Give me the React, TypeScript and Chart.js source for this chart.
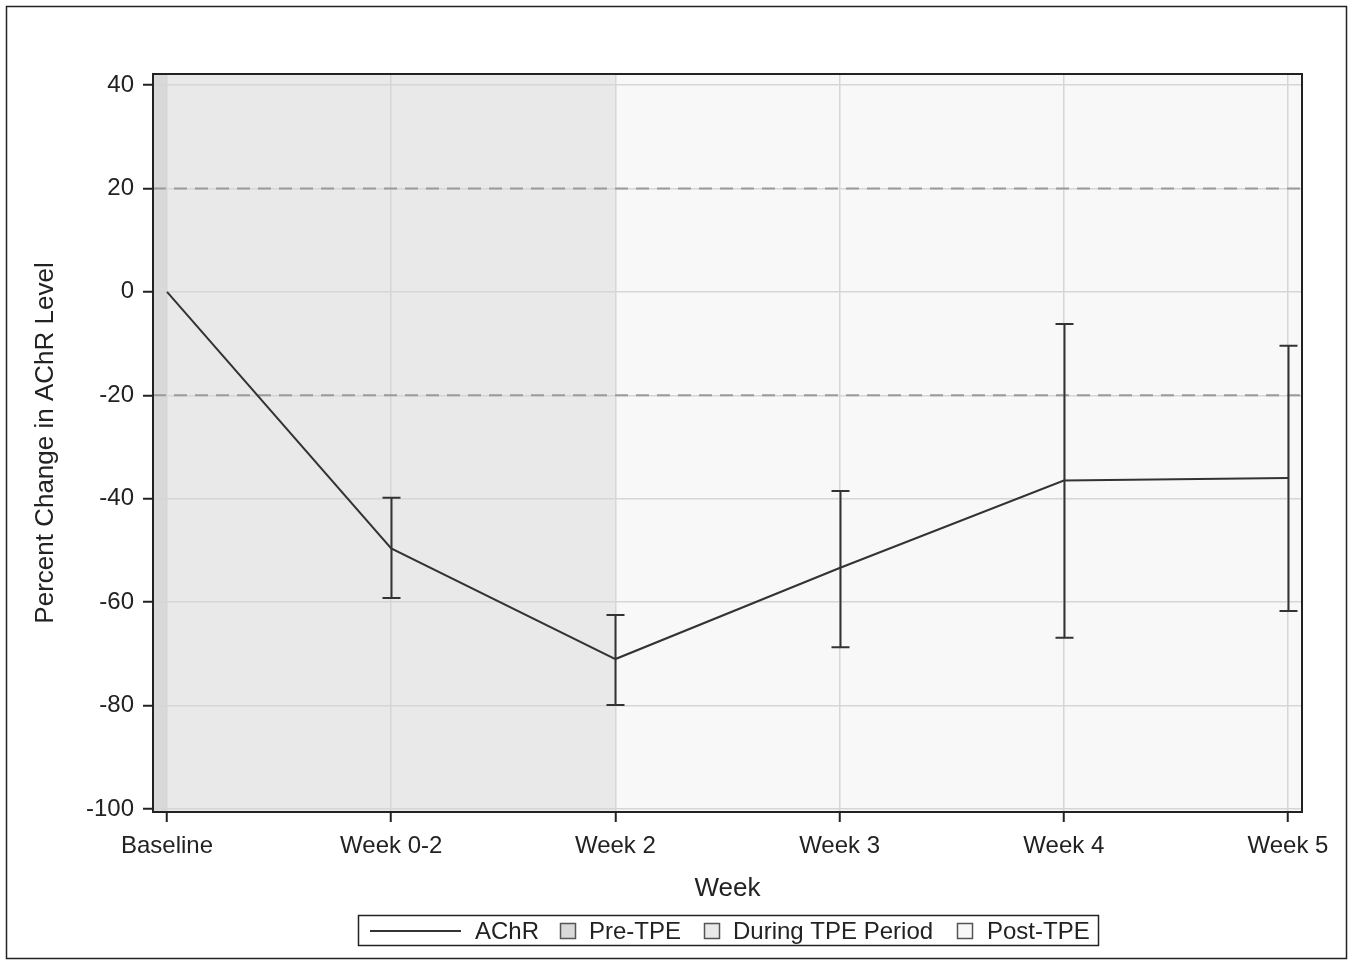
import React, { useEffect, useRef } from "react";
import { Chart, registerables } from "chart.js";

Chart.register(...registerables);

// Visits along the x axis
const categories = ["Baseline", "Week 0-2", "Week 2", "Week 3", "Week 4", "Week 5"];
// Mean percent change in AChR level, with lower / upper error-bar ends
const meanChange = [0, -49.6, -71.0, -53.4, -36.5, -36.0];
const lowerBar: (number | null)[] = [null, -59.2, -79.9, -68.7, -66.9, -61.7];
const upperBar: (number | null)[] = [null, -39.8, -62.5, -38.5, -6.2, -10.4];
// Y axis ticks and dashed reference levels
const yTicks = [-100, -80, -60, -40, -20, 0, 20, 40];
const referenceLevels = [20, -20];
// Treatment phases (x positions of the boundaries, in category units)
const phaseNames = ["Pre-TPE", "During TPE Period", "Post-TPE"];
const phaseStarts = [null, 0, 2];
const phaseEnds = [0, 2, null];
const phaseColors = ["#d9d9d9", "#e9e9e9", "#f8f8f8"];

const FONT = "'Liberation Sans', Arial, Helvetica, sans-serif";
const INK = "#222222";
const LINE = "#333333";

const decorPlugin = {
  id: "decor",
  beforeDraw(chart: any) {
    const { ctx, chartArea: a, scales } = chart;
    const xs = scales.x;
    ctx.save();
    ctx.fillStyle = "#ffffff";
    ctx.fillRect(0, 0, chart.width, chart.height);
    phaseNames.forEach((_, i) => {
      const x0 = phaseStarts[i] === null ? a.left : xs.getPixelForValue(phaseStarts[i]);
      const x1 = phaseEnds[i] === null ? a.right : xs.getPixelForValue(phaseEnds[i]);
      ctx.fillStyle = phaseColors[i];
      ctx.fillRect(x0, a.top, x1 - x0, a.bottom - a.top);
    });
    ctx.restore();
  },
  beforeDatasetsDraw(chart: any) {
    const { ctx, chartArea: a, scales } = chart;
    ctx.save();
    ctx.strokeStyle = "#9a9a9a";
    ctx.lineWidth = 2;
    ctx.setLineDash([13, 8]);
    referenceLevels.forEach((v) => {
      const y = scales.y.getPixelForValue(v);
      ctx.beginPath();
      ctx.moveTo(a.left, y);
      ctx.lineTo(a.right, y);
      ctx.stroke();
    });
    ctx.restore();
  },
  afterDatasetsDraw(chart: any) {
    const { ctx, scales } = chart;
    ctx.save();
    ctx.strokeStyle = LINE;
    ctx.lineWidth = 2;
    const cap = 9;
    categories.forEach((_, i) => {
      const lo = lowerBar[i];
      const hi = upperBar[i];
      if (lo === null || hi === null) return;
      const x = Math.round(scales.x.getPixelForValue(i)) + 0.5;
      const yl = scales.y.getPixelForValue(lo);
      const yh = scales.y.getPixelForValue(hi);
      ctx.beginPath();
      ctx.moveTo(x, yl);
      ctx.lineTo(x, yh);
      ctx.moveTo(x - cap, yl);
      ctx.lineTo(x + cap, yl);
      ctx.moveTo(x - cap, yh);
      ctx.lineTo(x + cap, yh);
      ctx.stroke();
    });
    ctx.restore();
  },
  afterDraw(chart: any) {
    const { ctx, chartArea: a } = chart;
    ctx.save();
    // plot frame
    ctx.strokeStyle = INK;
    ctx.lineWidth = 2;
    ctx.strokeRect(a.left, a.top, a.right - a.left, a.bottom - a.top);

    // axis titles
    ctx.fillStyle = INK;
    ctx.font = `26px ${FONT}`;
    ctx.textAlign = "center";
    ctx.textBaseline = "alphabetic";
    ctx.fillText("Week", (a.left + a.right) / 2, 896);
    ctx.save();
    ctx.translate(53, (a.top + a.bottom) / 2);
    ctx.rotate(-Math.PI / 2);
    ctx.fillText("Percent Change in AChR Level", 0, 0);
    ctx.restore();

    // legend
    ctx.lineWidth = 1.5;
    ctx.strokeStyle = INK;
    ctx.strokeRect(358.5, 915.5, 740, 30);
    const ly = 931;
    ctx.strokeStyle = LINE;
    ctx.lineWidth = 2;
    ctx.beginPath();
    ctx.moveTo(370, ly);
    ctx.lineTo(461, ly);
    ctx.stroke();
    ctx.font = `24px ${FONT}`;
    ctx.textAlign = "left";
    ctx.textBaseline = "middle";
    ctx.fillStyle = INK;
    ctx.fillText("AChR", 475, ly + 1);
    const squareX = [560, 704, 957];
    const textX = [589, 733, 987];
    phaseNames.forEach((name, i) => {
      ctx.fillStyle = phaseColors[i];
      ctx.fillRect(squareX[i], ly - 8, 16, 16);
      ctx.strokeStyle = "#555555";
      ctx.lineWidth = 1.5;
      ctx.strokeRect(squareX[i] + 0.5, ly - 7.5, 15, 15);
      ctx.fillStyle = INK;
      ctx.fillText(name, textX[i], ly + 1);
    });

    // outer frame
    ctx.strokeStyle = INK;
    ctx.lineWidth = 1.5;
    ctx.strokeRect(6.5, 6.5, 1340, 952);
    ctx.restore();
  },
};

export default function App() {
  const canvasRef = useRef<HTMLCanvasElement | null>(null);

  useEffect(() => {
    document.body.style.margin = "0";
    const canvas = canvasRef.current;
    if (!canvas) return;
    const chart = new Chart(canvas, {
      type: "line",
      data: {
        datasets: [
          {
            label: "AChR",
            data: meanChange.map((v, i) => ({ x: i, y: v })),
            borderColor: LINE,
            borderWidth: 2,
            pointRadius: 0,
            tension: 0,
            fill: false,
          },
        ],
      },
      options: {
        animation: false,
        responsive: false,
        devicePixelRatio: 1,
        layout: { padding: { left: 0, top: 74, right: 53, bottom: 0 } },
        plugins: { legend: { display: false }, tooltip: { enabled: false } },
        scales: {
          x: {
            type: "linear",
            min: -0.0625,
            max: 5.0625,
            afterBuildTicks: (scale: any) => {
              scale.ticks = categories.map((_, i) => ({ value: i }));
            },
            afterFit: (scale: any) => {
              scale.height = 151;
            },
            ticks: {
              callback: (v: any) => categories[Math.round(Number(v))] ?? "",
              color: INK,
              font: { family: FONT, size: 24 },
              padding: 10,
              maxRotation: 0,
              autoSkip: false,
            },
            grid: {
              color: "#d6d6d6",
              lineWidth: 1.5,
              tickColor: INK,
              tickLength: 10,
              tickWidth: 2,
            },
            border: { display: false },
          },
          y: {
            type: "linear",
            min: -100.58,
            max: 42.13,
            afterBuildTicks: (scale: any) => {
              scale.ticks = yTicks.map((v) => ({ value: v }));
            },
            afterFit: (scale: any) => {
              scale.width = 153;
            },
            ticks: {
              color: INK,
              font: { family: FONT, size: 24 },
              padding: 9,
            },
            grid: {
              color: "#d6d6d6",
              lineWidth: 1.5,
              tickColor: INK,
              tickLength: 10,
              tickWidth: 2,
            },
            border: { display: false },
          },
        },
      },
      plugins: [decorPlugin],
    } as any);
    return () => chart.destroy();
  }, []);

  return (
    <div style={{ position: "fixed", left: 0, top: 0, width: 1355, height: 963, background: "#fff" }}>
      <canvas ref={canvasRef} width={1355} height={963} style={{ display: "block" }} />
    </div>
  );
}
